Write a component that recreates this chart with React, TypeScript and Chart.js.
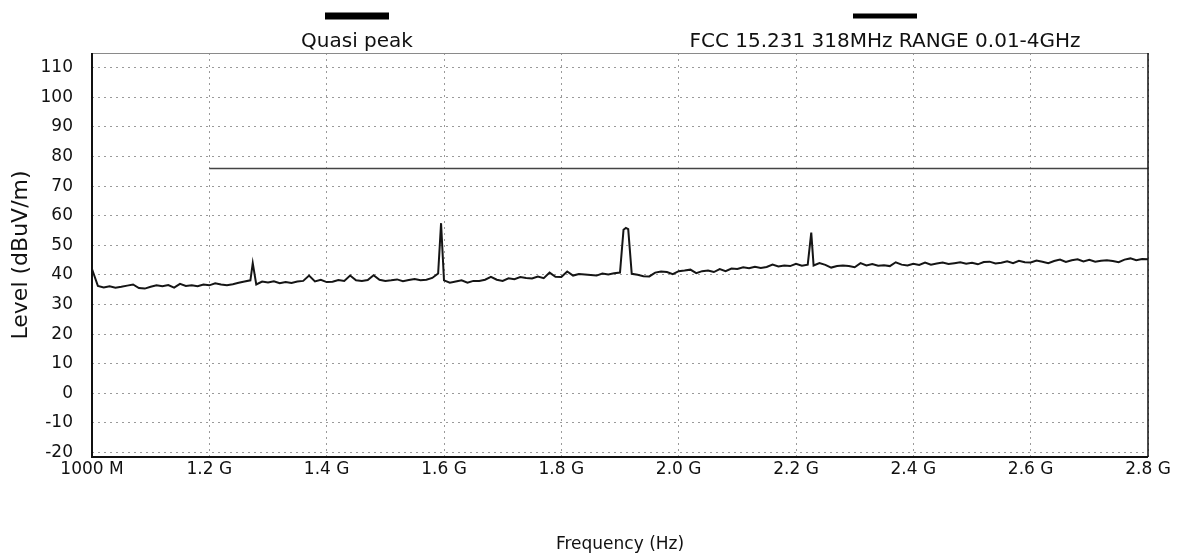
import React, { useEffect, useRef } from "react";
import { Chart, registerables } from "chart.js";

Chart.register(...registerables);

// ---- data ----
const seriesNames = ["Quasi peak", "FCC 15.231 318MHz RANGE 0.01-4GHz"];

// trace sampled every 10 MHz from 1000 MHz to 2800 MHz (dBuV/m)
const traceStartMHz = 1000;
const traceStepMHz = 10;
const traceLevels = [
  42.0, 36.3, 35.8, 36.2, 35.7, 36.0, 36.4, 36.8, 35.6, 35.4,
  36.0, 36.5, 36.2, 36.6, 35.7, 37.0, 36.3, 36.5, 36.2, 36.8,
  36.5, 37.2, 36.8, 36.5, 36.9, 37.4, 37.8, 38.2, 36.8, 37.8,
  37.5, 37.9, 37.2, 37.6, 37.3, 37.8, 38.0, 39.8, 37.8, 38.4,
  37.6, 37.7, 38.3, 38.0, 39.8, 38.2, 38.0, 38.3, 39.9, 38.4,
  38.0, 38.2, 38.5, 37.9, 38.3, 38.6, 38.2, 38.4, 39.0, 40.5,
  38.2, 37.4, 37.8, 38.2, 37.4, 38.0, 38.0, 38.4, 39.4, 38.4,
  38.0, 38.9, 38.6, 39.3, 39.0, 38.8, 39.5, 38.9, 40.8, 39.4,
  39.3, 41.2, 39.8, 40.3, 40.2, 40.0, 39.8, 40.5, 40.2, 40.6,
  40.8, 55.9, 40.4, 40.1, 39.6, 39.5, 40.8, 41.2, 41.0, 40.3,
  41.3, 41.5, 41.8, 40.6, 41.3, 41.5, 41.0, 42.0, 41.3, 42.2,
  42.0, 42.6, 42.3, 42.8, 42.4, 42.7, 43.5, 42.9, 43.2, 43.0,
  43.8, 43.1, 43.5, 43.2, 44.0, 43.4, 42.5, 43.0, 43.2, 43.0,
  42.6, 44.0, 43.2, 43.7, 43.1, 43.3, 43.0, 44.3, 43.5, 43.2,
  43.8, 43.4, 44.2, 43.5, 43.9, 44.2, 43.7, 44.0, 44.3, 43.8,
  44.1, 43.6, 44.4, 44.5, 43.9, 44.1, 44.6, 44.0, 44.8, 44.3,
  44.2, 44.9, 44.5, 44.0, 44.7, 45.2, 44.4, 45.0, 45.3, 44.6,
  45.1, 44.5, 44.8, 45.0, 44.7, 44.3, 45.2, 45.6, 45.0, 45.4,
  45.3,
];

// narrow emission peaks inserted between the 10 MHz samples (MHz, dBuV/m)
const peakFreqs = [1274, 1595, 1906, 1914, 2226];
const peakLevels = [44.0, 57.5, 55.3, 55.5, 54.3];

// limit line
const limitFreqs = [1200, 2800];
const limitLevels = [76, 76];

// axes
const xTickValues = [1000, 1200, 1400, 1600, 1800, 2000, 2200, 2400, 2600, 2800];
const xTickLabels = ["1000 M", "1.2 G", "1.4 G", "1.6 G", "1.8 G", "2.0 G", "2.2 G", "2.4 G", "2.6 G", "2.8 G"];
const yTickValues = [-20, -10, 0, 10, 20, 30, 40, 50, 60, 70, 80, 90, 100, 110];
const xMin = 1000;
const xMax = 2800;
const yMin = -21.5;
const yMax = 115;

const FONT = "'DejaVu Sans', Verdana, sans-serif";

function buildTrace() {
  const pts = traceLevels.map((v, i) => ({ x: traceStartMHz + i * traceStepMHz, y: v }));
  peakFreqs.forEach((f, i) => pts.push({ x: f, y: peakLevels[i] }));
  pts.sort((a, b) => a.x - b.x);
  return pts;
}

const frameAndLegend = {
  id: "frameAndLegend",
  afterDatasetsDraw(chart: any) {
    const { ctx, chartArea } = chart;
    const { left, right, top, bottom } = chartArea;
    ctx.save();
    ctx.strokeStyle = "#8a8a8a";
    ctx.lineWidth = 1;
    ctx.beginPath();
    ctx.moveTo(left, top + 0.5);
    ctx.lineTo(right, top + 0.5);
    ctx.stroke();
    ctx.strokeStyle = "#111";
    ctx.lineWidth = 2;
    ctx.beginPath();
    ctx.moveTo(left, top);
    ctx.lineTo(left, bottom);
    ctx.lineTo(right, bottom);
    ctx.stroke();
    ctx.lineWidth = 1.5;
    ctx.beginPath();
    ctx.moveTo(right, top);
    ctx.lineTo(right, bottom);
    ctx.stroke();
    ctx.restore();
  },
  afterDraw(chart: any) {
    const ctx = chart.ctx;
    const centers = [357, 885];
    const thick = [7, 5];
    ctx.save();
    chart.data.datasets.forEach((ds: any, i: number) => {
      const cx = centers[i];
      ctx.fillStyle = "#000";
      ctx.fillRect(cx - 32, 16 - thick[i] / 2, 64, thick[i]);
      ctx.font = `20px ${FONT}`;
      ctx.textAlign = "center";
      ctx.textBaseline = "middle";
      ctx.fillStyle = "#111";
      ctx.fillText(ds.label, cx, 42);
    });
    ctx.restore();
  },
};

export default function App() {
  const ref = useRef<HTMLCanvasElement | null>(null);
  useEffect(() => {
    if (!ref.current) return;
    const chart = new Chart(ref.current, {
      type: "line",
      data: {
        datasets: [
          {
            label: seriesNames[0],
            data: buildTrace(),
            borderColor: "#151515",
            borderWidth: 2,
            pointRadius: 0,
            tension: 0,
          },
          {
            label: seriesNames[1],
            data: limitFreqs.map((f, i) => ({ x: f, y: limitLevels[i] })),
            borderColor: "#444",
            borderWidth: 1.5,
            pointRadius: 0,
            tension: 0,
          },
        ],
      },
      options: {
        animation: false,
        responsive: true,
        maintainAspectRatio: false,
        layout: { padding: { top: 53, right: 36, left: 0, bottom: 0 } },
        plugins: { legend: { display: false }, tooltip: { enabled: false } },
        scales: {
          x: {
            type: "linear",
            min: xMin,
            max: xMax,
            afterFit: (s: any) => { s.height = 101; },
            afterBuildTicks: (s: any) => { s.ticks = xTickValues.map((v) => ({ value: v })); },
            ticks: {
              color: "#111",
              font: { family: FONT, size: 17 },
              padding: 2,
              maxRotation: 0,
              autoSkip: false,
              callback: (v: any) => {
                const i = xTickValues.indexOf(Number(v));
                return i >= 0 ? xTickLabels[i] : "";
              },
            },
            grid: { color: "#9a9a9a", lineWidth: 1, drawTicks: false },
            border: { display: false, dash: [2, 4] },
            title: {
              display: true,
              text: "Frequency (Hz)",
              color: "#111",
              font: { family: FONT, size: 17 },
              padding: { top: 0, bottom: 3 },
            },
          },
          y: {
            type: "linear",
            min: yMin,
            max: yMax,
            afterFit: (s: any) => { s.width = 92; },
            afterBuildTicks: (s: any) => { s.ticks = yTickValues.map((v) => ({ value: v })); },
            ticks: {
              color: "#111",
              font: { family: FONT, size: 17 },
              padding: 19,
              autoSkip: false,
            },
            grid: { color: "#9a9a9a", lineWidth: 1, drawTicks: false },
            border: { display: false, dash: [2, 4] },
            title: {
              display: true,
              text: "Level (dBuV/m)",
              color: "#111",
              font: { family: FONT, size: 22 },
              padding: { top: 8, bottom: 0 },
            },
          },
        },
      },
      plugins: [frameAndLegend],
    });
    return () => chart.destroy();
  }, []);
  return (
    <div style={{ position: "fixed", left: 0, top: 0, width: 1184, height: 558, background: "#fff" }}>
      <canvas ref={ref} />
    </div>
  );
}
